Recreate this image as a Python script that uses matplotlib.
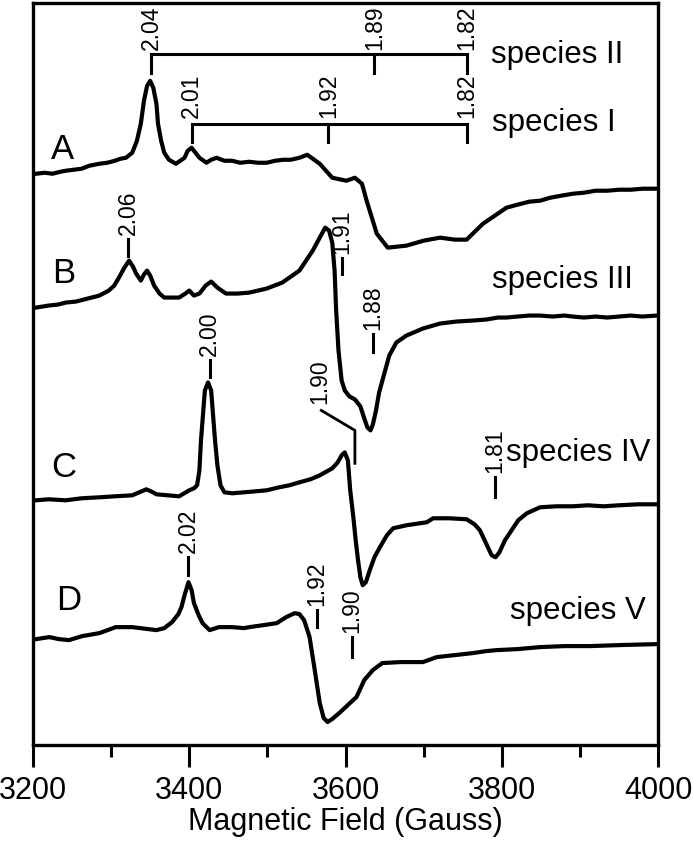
import matplotlib.pyplot as plt
from matplotlib.ticker import MultipleLocator

plt.rcParams["font.family"] = ["Liberation Sans", "DejaVu Sans"]

# spectrum A (field in G, intensity in arb. units relative to left baseline)
field_A = [3204, 3215, 3225, 3235, 3242, 3252, 3262, 3272, 3285, 3295, 3305, 3312, 3319,
           3327, 3333, 3338, 3342, 3346, 3350, 3354, 3358, 3360, 3364, 3368, 3374, 3383,
           3394, 3398, 3403, 3408, 3413, 3422, 3428, 3435, 3445, 3455, 3465, 3477, 3488,
           3499, 3510, 3520, 3530, 3541, 3551, 3567, 3583, 3601, 3612, 3621, 3627, 3640,
           3654, 3678, 3700, 3721, 3740, 3755, 3776, 3806, 3820, 3835, 3849, 3862, 3876,
           3891, 3905, 3920, 3935, 3950, 3965, 3980, 3999]
int_A = [0, 1, 0, 2, 3, 4, 5, 8, 10, 11, 13, 15, 16,
         21, 33, 50, 73, 88, 93, 86, 70, 50, 33, 21, 14, 10,
         16, 23, 26, 21, 16, 11, 14, 16, 13, 13, 11, 12, 11,
         11, 13, 14, 14, 16, 19, 10, -4, -7, -4, -10, -27, -60,
         -74, -72, -67, -64, -66, -66, -50, -34, -31, -28, -27, -24, -22,
         -20, -19, -17, -17, -16, -16, -15, -15]

# spectrum B
field_B = [3204, 3220, 3232, 3242, 3255, 3270, 3285, 3297, 3304, 3310, 3317, 3323, 3328,
           3332, 3338, 3342, 3346, 3350, 3355, 3362, 3368, 3387, 3395, 3400, 3406, 3413,
           3421, 3428, 3436, 3447, 3462, 3477, 3499, 3519, 3541, 3558, 3567, 3574, 3579,
           3583, 3586, 3588, 3591, 3595, 3599, 3605, 3612, 3619, 3624, 3628, 3632, 3635,
           3639, 3643, 3650, 3656, 3665, 3678, 3699, 3721, 3742, 3763, 3780, 3795, 3806,
           3820, 3835, 3849, 3865, 3880, 3891, 3905, 3920, 3935, 3950, 3965, 3980, 3999]
int_B = [0, 2, 3, 5, 6, 9, 12, 17, 22, 30, 40, 47, 41,
         34, 27, 33, 37, 32, 22, 14, 10, 10, 14, 17, 12, 14,
         22, 26, 20, 14, 14, 15, 19, 25, 37, 57, 70, 80, 77,
         65, 37, -3, -43, -73, -83, -89, -92, -99, -111, -120, -123, -117,
         -103, -85, -65, -48, -35, -28, -21, -16, -14, -13, -12, -10, -10,
         -9, -8, -8, -9, -8, -9, -10, -9, -10, -9, -8, -9, -8]

# spectrum C
field_C = [3204, 3220, 3242, 3262, 3285, 3305, 3327, 3336, 3345, 3351, 3358, 3387, 3400,
           3406, 3410, 3413, 3415, 3418, 3420, 3424, 3428, 3430, 3433, 3436, 3440, 3445,
           3455, 3470, 3485, 3499, 3515, 3528, 3541, 3555, 3567, 3583, 3590, 3595, 3599,
           3603, 3606, 3610, 3613, 3616, 3619, 3622, 3626, 3631, 3637, 3644, 3653, 3661,
           3678, 3704, 3712, 3733, 3755, 3765, 3772, 3781, 3787, 3792, 3797, 3804, 3810,
           3821, 3832, 3849, 3870, 3891, 3910, 3930, 3950, 3975, 3999]
int_C = [0, 1, 0, 2, 3, 4, 5, 8, 11, 9, 6, 4, 10,
         12, 15, 30, 60, 90, 110, 118, 110, 90, 60, 35, 15, 8,
         7, 8, 9, 10, 13, 15, 18, 21, 25, 32, 38, 45, 48,
         40, 10, -17, -40, -60, -77, -85, -82, -70, -57, -47, -35, -28,
         -25, -22, -18, -18, -19, -24, -30, -45, -55, -57, -52, -40, -33,
         -20, -13, -7, -6, -6, -5, -6, -5, -4, -4]

# spectrum D
field_D = [3204, 3221, 3233, 3246, 3263, 3285, 3306, 3327, 3358, 3368, 3378, 3386, 3390,
           3394, 3399, 3403, 3406, 3412, 3417, 3426, 3438, 3455, 3470, 3477, 3495, 3512,
           3524, 3535, 3541, 3547, 3554, 3560, 3567, 3572, 3577, 3583, 3592, 3614, 3624,
           3635, 3647, 3670, 3699, 3717, 3740, 3763, 3780, 3794, 3820, 3849, 3880, 3913,
           3950, 3999]
int_D = [0, 2, 0, -1, 3, 6, 12, 12, 9, 11, 17, 25, 32,
         44, 57, 49, 36, 24, 16, 9, 12, 12, 11, 12, 14, 16,
         22, 26, 25, 19, 2, -28, -64, -79, -83, -80, -74, -58, -41,
         -31, -24, -23, -23, -18, -16, -14, -12, -11, -10, -8, -7, -7,
         -6, -5]

spectra = [(field_A, int_A), (field_B, int_B), (field_C, int_C), (field_D, int_D)]
offsets = [572, 438, 245, 106]
letters = ["A", "B", "C", "D"]
letter_pos = [(3223, 587), (3224, 463), (3224, 268), (3229, 135)]

species = ["species II", "species I", "species III", "species IV", "species V"]
species_pos = [(3786, 683), (3787, 615), (3788, 458), (3806, 284), (3810, 126)]

# species I / II g-value brackets
bracket_II_g = ["2.04", "1.89", "1.82"]
bracket_II_field = [3351, 3637, 3755]
bracket_I_g = ["2.01", "1.92", "1.82"]
bracket_I_field = [3403, 3578, 3755]

# single g-value markers: label, field, tick bottom, tick top
mark_g = ["2.06", "1.91", "1.88", "2.00", "1.81", "2.02", "1.92", "1.90"]
mark_field = [3322, 3595, 3635, 3426, 3791, 3399, 3563, 3608]
mark_lo = [490, 472, 393, 368, 248, 170, 118, 88]
mark_hi = [507, 488, 412, 385, 268, 188, 135, 108]

fig = plt.figure(figsize=(6.93, 8.48), dpi=100)
ax = fig.add_axes([0.0476, 0.1215, 0.902, 0.875])

for (f, s), off in zip(spectra, offsets):
    ax.plot(f, [v + off for v in s], color="black", lw=3.0, solid_joinstyle="round")

for lab, (x, y) in zip(letters, letter_pos):
    ax.text(x, y, lab, fontsize=25, ha="left", va="baseline")

for lab, (x, y) in zip(species, species_pos):
    ax.text(x, y, lab, fontsize=22.5, ha="left", va="baseline")

gfont = dict(fontsize=16.5, rotation=90, ha="center", va="bottom")


def bracket(fields, labels, ybar, ylow, ytext):
    ax.plot([fields[0], fields[-1]], [ybar, ybar], color="black", lw=2.2)
    for f, g in zip(fields, labels):
        ax.plot([f, f], [ylow, ybar], color="black", lw=2.2)
        ax.text(f, ytext, g, **gfont)


bracket(bracket_II_field, bracket_II_g, 692, 673, 696)
bracket(bracket_I_field, bracket_I_g, 622, 604, 628)

for g, f, lo, hi in zip(mark_g, mark_field, mark_lo, mark_hi):
    ax.plot([f, f], [lo, hi], color="black", lw=2.2)
    ax.text(f, hi + 4, g, **gfont)

# species IV 1.90 marker with leader line
ax.plot([3569, 3612, 3612], [335, 315, 282], color="black", lw=2.0)
ax.text(3567, 341, "1.90", **gfont)

ax.set_xlim(3200, 4000)
ax.set_ylim(0, 743)
ax.xaxis.set_major_locator(MultipleLocator(200))
ax.xaxis.set_minor_locator(MultipleLocator(100))
ax.set_yticks([])
ax.tick_params(axis="x", which="major", direction="out", length=16, width=2.2,
               labelsize=22, pad=6)
ax.tick_params(axis="x", which="minor", direction="out", length=8.5, width=2.2)
for sp in ax.spines.values():
    sp.set_linewidth(2.4)
ax.set_xlabel("Magnetic Field (Gauss)", fontsize=22, labelpad=1)

fig.savefig("out.png", dpi=100)
